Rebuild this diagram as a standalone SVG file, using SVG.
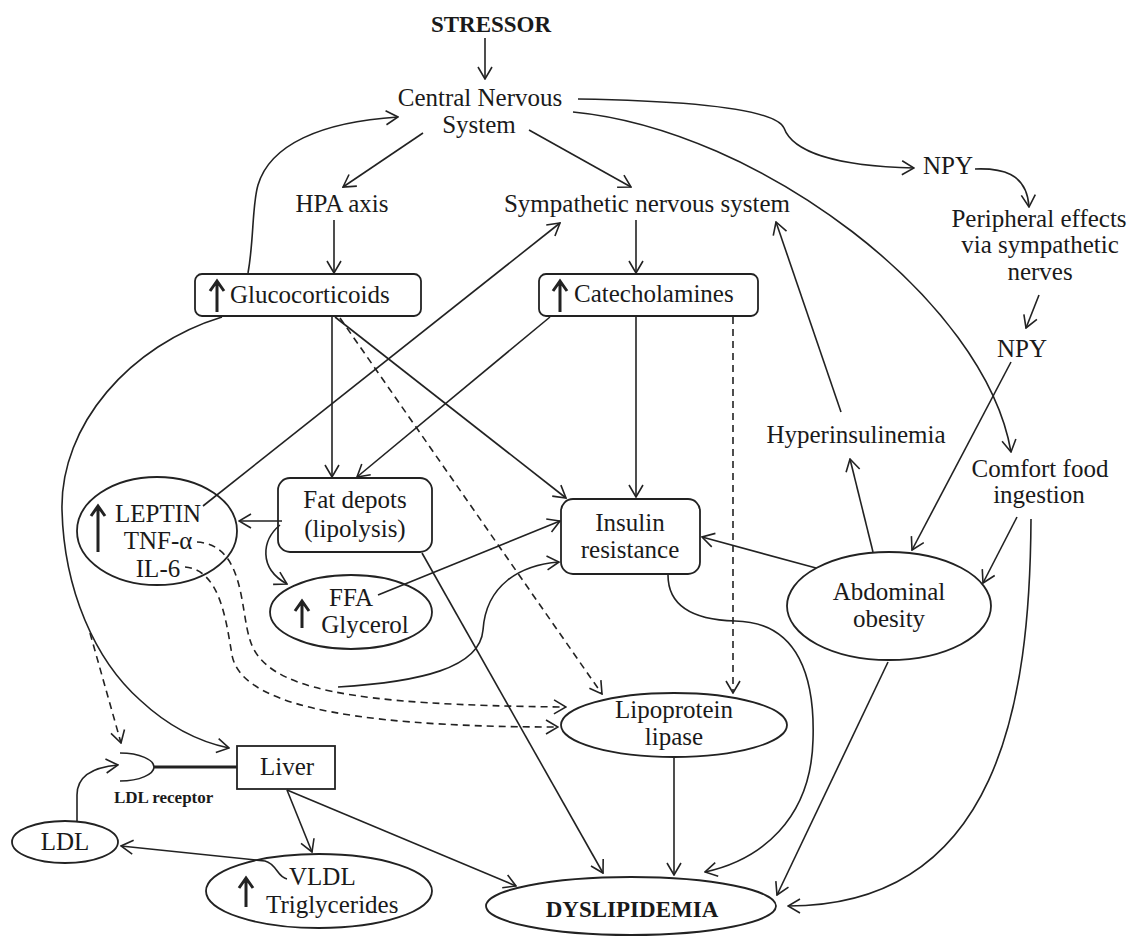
<svg xmlns="http://www.w3.org/2000/svg" width="1133" height="936" viewBox="0 0 1133 936">
<style>
text{font-family:"Liberation Serif","Times New Roman",serif;font-size:25px;fill:#1a1a1a}
.b{font-weight:bold}
.c{text-anchor:middle}
.n{fill:#fff;stroke:#222;stroke-width:1.8}
.e{fill:none;stroke:#222;stroke-width:1.6}
.d{stroke-dasharray:7,5}
.ar{marker-end:url(#a)}
.up{fill:none;stroke:#222;stroke-width:3}
</style>
<defs>
<marker id="a" viewBox="0 0 14 16" refX="13" refY="8" markerWidth="14" markerHeight="16" markerUnits="userSpaceOnUse" orient="auto">
<path d="M1,1 L13,8 L1,15" fill="none" stroke="#222" stroke-width="1.6"/>
</marker>
</defs>
<rect width="1133" height="936" fill="#fff"/>

<g id="connectors">
<path class="e ar" d="M485,38 L485,79"/>
<path class="e ar" d="M423,133 L343,187"/>
<path class="e ar" d="M529,130 L631,187"/>
<path class="e ar" d="M334,220 L334,273"/>
<path class="e ar" d="M636,220 L636,273"/>
<path class="e ar" d="M248,273 C254,240 252,205 258,185 C270,145 320,122 398,117"/>
<path class="e ar" d="M578,99 C700,101 775,110 784,128 C792,150 830,166 914,168"/>
<path class="e ar" d="M975,169 C1000,168 1027,172 1029,207"/>
<path class="e ar" d="M1039,295 L1026,328"/>
<path class="e ar" d="M573,112 C760,130 985,300 1011,452"/>
<path class="e ar" d="M1011,362 L912,550"/>
<path class="e ar" d="M1017,517 L983,583"/>
<path class="e ar" d="M1031,519 C1030,700 1000,906 788,906"/>
<path class="e ar" d="M873,552 L850,459"/>
<path class="e ar" d="M841,412 L776,222"/>
<path class="e ar" d="M816,568 L702,537"/>
<path class="e ar" d="M888,662 L777,895"/>
<path class="e ar" d="M203,506 L560,223"/>
<path class="e ar" d="M636,317 L636,497"/>
<path class="e ar" d="M335,317 L566,498"/>
<path class="e ar" d="M332,317 L332,477"/>
<path class="e ar" d="M550,317 L357,477"/>
<path class="e d ar" d="M340,318 L602,694"/>
<path class="e d ar" d="M733,317 L733,693"/>
<path class="e ar" d="M282,521 L239,521"/>
<path class="e ar" d="M280,525 C262,540 258,568 287,584"/>
<path class="e ar" d="M378,595 L560,521"/>
<path class="e ar" d="M338,687 C420,682 480,668 483,630 C486,585 520,565 559,562"/>
<path class="e d ar" d="M197,542 C245,545 240,610 250,640 C265,690 350,705 566,707"/>
<path class="e d ar" d="M185,567 C220,570 226,620 232,655 C240,700 330,727 558,727"/>
<path class="e ar" d="M422,553 L603,873"/>
<path class="e ar" d="M674,757 L674,875"/>
<path class="e ar" d="M668,575 C668,610 700,620 735,621 C800,622 815,680 813,740 C811,820 760,860 705,872"/>
<path class="e ar" d="M222,317 C130,345 60,425 62,510 C64,590 95,660 140,700 C170,728 200,742 229,748"/>
<path class="e d ar" d="M90,633 L121,743"/>
<path class="e ar" d="M287,790 L312,852"/>
<path class="e ar" d="M287,790 L516,886"/>
<path class="e ar" d="M287,879 C277,877 277,864 265,861 L121,846"/>
<path class="e ar" d="M77,822 L77,795 C77,775 95,767 118,765"/>
</g>

<g id="stressor"><text class="b c" x="491" y="32" style="font-size:23px">STRESSOR</text></g>
<g id="cns"><text class="c" x="480" y="106">Central Nervous</text><text class="c" x="479" y="133">System</text></g>
<g id="hpa"><text class="c" x="342" y="212">HPA axis</text></g>
<g id="sns"><text class="c" x="647" y="212">Sympathetic nervous system</text></g>
<g id="glucocorticoids">
<rect class="n" x="195" y="274" width="226" height="42" rx="7"/>
<path class="up" d="M217,312 L217,282 M210,291 L217,281 L224,291"/>
<text x="230" y="303">Glucocorticoids</text>
</g>
<g id="catecholamines">
<rect class="n" x="539" y="274" width="219" height="42" rx="7"/>
<path class="up" d="M560,312 L560,282 M553,291 L560,281 L567,291"/>
<text x="574" y="302">Catecholamines</text>
</g>
<g id="npy1"><text x="923" y="174">NPY</text></g>
<g id="peripheral"><text class="c" x="1039" y="227">Peripheral effects</text><text class="c" x="1040" y="253">via sympathetic</text><text class="c" x="1040" y="280">nerves</text></g>
<g id="npy2"><text class="c" x="1022" y="357">NPY</text></g>
<g id="hyperinsulinemia"><text class="c" x="856" y="443">Hyperinsulinemia</text></g>
<g id="comfort"><text class="c" x="1040" y="477">Comfort food</text><text class="c" x="1039" y="503">ingestion</text></g>
<g id="leptin">
<ellipse class="n" cx="157" cy="531" rx="80" ry="54" style="fill:none"/>
<path class="up" d="M98,552 L98,507 M91,516 L98,506 L105,516"/>
<text class="c" x="158" y="522">LEPTIN</text>
<text class="c" x="158" y="549">TNF-α</text>
<text class="c" x="158" y="577">IL-6</text>
</g>
<g id="fatdepots">
<rect class="n" x="278" y="478" width="154" height="74" rx="12" style="fill:none"/>
<text class="c" x="355" y="508">Fat depots</text><text class="c" x="355" y="537">(lipolysis)</text>
</g>
<g id="ffa">
<ellipse class="n" cx="351" cy="612" rx="81" ry="37" style="fill:none"/>
<path class="up" d="M302,628 L302,602 M295,611 L302,601 L309,611"/>
<text class="c" x="351" y="606">FFA</text><text class="c" x="365" y="633">Glycerol</text>
</g>
<g id="insulin">
<rect class="n" x="561" y="499" width="139" height="75" rx="12" style="fill:none"/>
<text class="c" x="630" y="531">Insulin</text><text class="c" x="630" y="558">resistance</text>
</g>
<g id="abdominal">
<ellipse class="n" cx="889" cy="606" rx="102" ry="54" style="fill:none"/>
<text class="c" x="889" y="600">Abdominal</text><text class="c" x="889" y="627">obesity</text>
</g>
<g id="lpl">
<ellipse class="n" cx="674" cy="725" rx="113" ry="32" style="fill:none"/>
<text class="c" x="674" y="718">Lipoprotein</text><text class="c" x="674" y="745">lipase</text>
</g>
<g id="dyslipidemia">
<ellipse class="n" cx="631" cy="906" rx="145" ry="29" style="fill:none"/>
<text class="b c" x="632" y="917" style="font-size:23px">DYSLIPIDEMIA</text>
</g>
<g id="liver">
<rect class="n" x="237" y="746" width="98" height="43" style="fill:none"/>
<text class="c" x="287" y="775">Liver</text>
</g>
<g id="ldlreceptor">
<path class="e" d="M120,753 C140,753 154,760 154,767 C154,774 140,781 120,781"/>
<path d="M154,767 L237,767" stroke="#222" stroke-width="3"/>
<text class="b" x="114" y="803" style="font-size:17px">LDL receptor</text>
</g>
<g id="ldl">
<ellipse class="n" cx="65" cy="842" rx="53" ry="21" style="fill:none"/>
<text class="c" x="65" y="850">LDL</text>
</g>
<g id="vldl">
<ellipse class="n" cx="319" cy="891" rx="113" ry="37" style="fill:none"/>
<path class="up" d="M246,907 L246,879 M239,888 L246,878 L253,888"/>
<text x="289" y="885">VLDL</text><text x="266" y="913">Triglycerides</text>
</g>
</svg>
